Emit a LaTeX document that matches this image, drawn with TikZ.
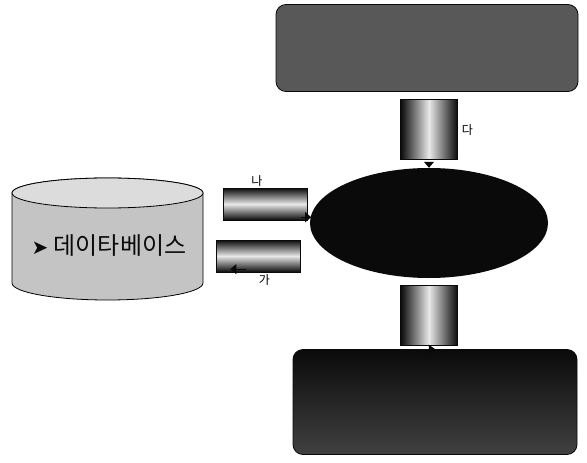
\documentclass[tikz,border=0pt]{standalone}
\usepackage{fontspec}
\usepackage{xcolor}
\usepackage{tikz}
\usetikzlibrary{arrows.meta,positioning,shapes.geometric}
\newfontfamily\kr{Noto Sans CJK KR}
\newfontfamily\sym{DejaVu Sans}
\definecolor{ink}{HTML}{0A0A0A}
\definecolor{slate}{HTML}{585858}
\definecolor{drum}{HTML}{C4C4C4}
\definecolor{glow}{HTML}{E8E8E8}
\tikzset{
  panel/.style={draw=ink, rounded corners=10pt, line width=0.8pt, inner sep=0pt},
  vbar/.style={draw=ink, left color=ink, right color=ink, middle color=glow,
    minimum width=57pt, minimum height=60pt, inner sep=0pt},
  hbar/.style={draw=ink, top color=ink, bottom color=ink, middle color=glow,
    minimum width=84pt, minimum height=32pt, inner sep=0pt},
  flow/.style={-{Triangle[length=6pt,width=10pt]}, line width=1pt, color=ink},
  side/.style={font=\kr\fontsize{12}{13}\selectfont, inner sep=1pt},
}

\begin{document}
\begin{tikzpicture}[x=1pt, y=-1pt]
  \useasboundingbox (0,0) rectangle (587,463);
  \node[ellipse, fill=ink, minimum width=238pt, minimum height=110pt, inner sep=0pt] (core) at (429,223) {};
  \node[vbar, above=8pt of core] (inbar) {};
  \node[vbar, below=7pt of core] (outbar) {};
  \node[panel, fill=slate, minimum width=302pt, minimum height=87pt] (spec) at (427,48) {};
  \node[panel, top color=ink, bottom color=slate!70!ink, minimum width=284pt, minimum height=105pt] (result) at (435,402) {};

  % database drum
  \coordinate (db) at (107.5,193);
  \draw[fill=drum, line width=0.8pt] ([xshift=-95.5pt]db) -- ++(0,90)
    arc[start angle=180, end angle=0, x radius=95.5, y radius=17] -- ([xshift=95.5pt]db)
    arc[start angle=0, end angle=-180, x radius=95.5, y radius=15] -- cycle;
  \draw[fill=drum!60!white, line width=0.8pt] (db) ellipse[x radius=95.5, y radius=15];
  \node[font=\kr\fontsize{24}{26}\selectfont, text=ink] (dblabel) at (109,246) {{\sym\fontsize{20}{22}\selectfont ➤} 데이타베이스};

  \node[hbar] (upbar) at (265,204) {};
  \node[hbar] (downbar) at (258.5,256) {};

  \draw[flow] ([yshift=-4pt]inbar.south) -- (core.north);
  \draw[flow] ([yshift=-4pt]outbar.south) -- (result.north);
  \draw[flow] ([xshift=-6pt,yshift=3pt]upbar.south east) -- ([xshift=4pt,yshift=3pt]upbar.south east);
  \draw[flow] ([xshift=30pt,yshift=3pt]downbar.south west) -- ([xshift=14pt,yshift=3pt]downbar.south west);

  \node[side, above=0pt of upbar, xshift=-8pt] (na) {나};
  \node[side, below=1pt of downbar, xshift=6pt] (ga) {가};
  \node[side, right=3pt of inbar] (da) {다};
\end{tikzpicture}
\end{document}
